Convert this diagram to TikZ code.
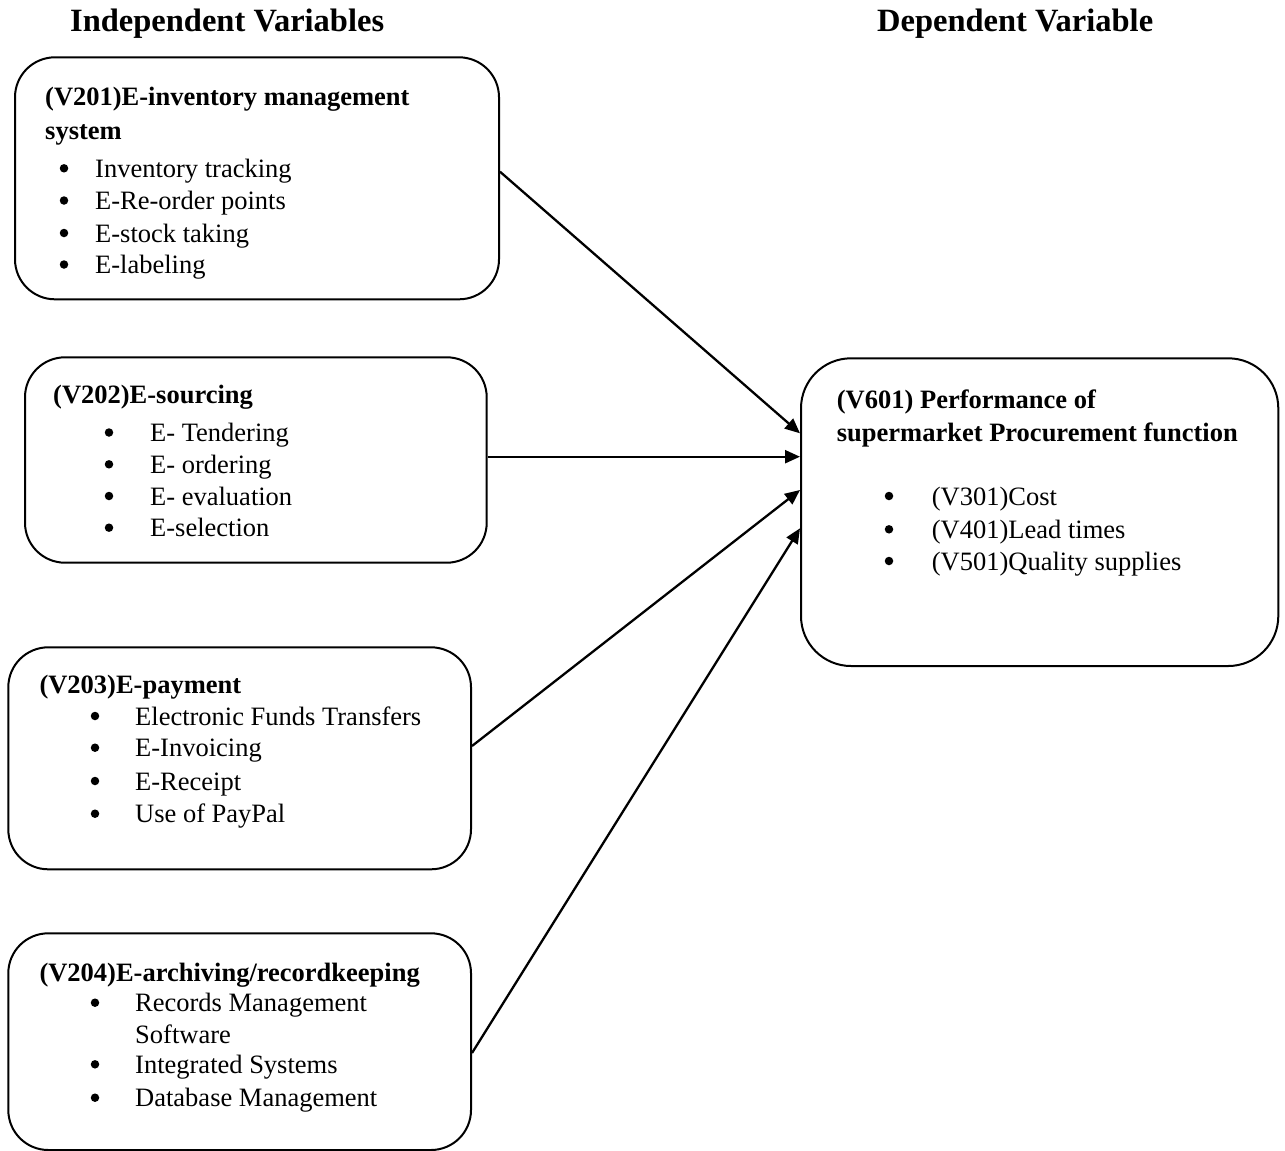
\documentclass[tikz,border=0pt]{standalone}
\usepackage{fontspec}
\setmainfont{Liberation Serif}
\usetikzlibrary{arrows.meta}
\tikzset{
  box/.style={draw, line width=2pt, rounded corners=40pt, inner sep=0pt},
  txt/.style={anchor=base west, inner sep=0pt, font=\fontsize{26.5}{32}\selectfont},
  ttl/.style={txt, font=\fontsize{26.5}{32}\selectfont\bfseries},
  hdr/.style={anchor=base west, inner sep=0pt, font=\fontsize{32.5}{38}\selectfont\bfseries},
  bul/.style={circle, fill, inner sep=0pt, minimum size=8.5pt},
  link/.style={line width=2.3pt, -{Triangle[length=15pt,width=13pt]}}
}
\begin{document}
\begin{tikzpicture}[x=1pt,y=-1pt]
\useasboundingbox (0,0) rectangle (1285,1151);
% headers
\node[hdr] (h1) at (70,31.5) {Independent Variables};
\node[hdr] (h2) at (877,31.5) {Dependent Variable};
% boxes
\node[box, minimum width=484pt, minimum height=242pt] (b1) at (257,178.3) {};
\node[box, minimum width=461.7pt, minimum height=205.4pt] (b2) at (255.85,460) {};
\node[box, minimum width=462.7pt, minimum height=222pt] (b3) at (239.65,758.3) {};
\node[box, minimum width=462.7pt, minimum height=216.7pt] (b4) at (239.65,1041.65) {};
\node[box, rounded corners=50pt, minimum width=477.3pt, minimum height=307.7pt] (v6) at (1039.65,512.15) {};
% box 1
\node[ttl] (t1a) at (45,105.5) {(V201)E-inventory management};
\node[ttl] (t1b) at (45,139.5) {system};
\node[bul] (p1a) at (64,168.3) {};
\node[txt] (l1a) at (95,177.3) {Inventory tracking};
\node[bul] (p1b) at (64,200.5) {};
\node[txt] (l1b) at (95,209.5) {E-Re-order points};
\node[bul] (p1c) at (64,233) {};
\node[txt] (l1c) at (95,242) {E-stock taking};
\node[bul] (p1d) at (64,264.5) {};
\node[txt] (l1d) at (95,273.5) {E-labeling};
% box 2
\node[ttl] (t2) at (53,403) {(V202)E-sourcing};
\node[bul] (p2a) at (109,432.5) {};
\node[txt] (l2a) at (150,441.5) {E- Tendering};
\node[bul] (p2b) at (109,464.3) {};
\node[txt] (l2b) at (150,473.3) {E- ordering};
\node[bul] (p2c) at (109,496) {};
\node[txt] (l2c) at (150,505) {E- evaluation};
\node[bul] (p2d) at (109,527.7) {};
\node[txt] (l2d) at (150,536.7) {E-selection};
% box 3
\node[ttl] (t3) at (39.3,693) {(V203)E-payment};
\node[bul] (p3a) at (95,716) {};
\node[txt] (l3a) at (135,725) {Electronic Funds Transfers};
\node[bul] (p3b) at (95,747.7) {};
\node[txt] (l3b) at (135,756.7) {E-Invoicing};
\node[bul] (p3c) at (95,781) {};
\node[txt] (l3c) at (135,790) {E-Receipt};
\node[bul] (p3d) at (95,813.7) {};
\node[txt] (l3d) at (135,822.7) {Use of PayPal};
% box 4
\node[ttl] (t4) at (39.3,981.7) {(V204)E-archiving/recordkeeping};
\node[bul] (p4a) at (95,1002.7) {};
\node[txt] (l4a) at (135,1011.7) {Records Management};
\node[txt] (l4b) at (135,1043.3) {Software};
\node[bul] (p4c) at (95,1064.3) {};
\node[txt] (l4c) at (135,1073.3) {Integrated Systems};
\node[bul] (p4d) at (95,1097.7) {};
\node[txt] (l4d) at (135,1106.7) {Database Management};
% dependent box
\node[ttl] (t6a) at (836.7,408.3) {(V601) Performance of};
\node[ttl] (t6b) at (836.7,441.7) {supermarket Procurement function};
\node[bul] (p6a) at (889,496) {};
\node[txt] (l6a) at (931.7,505) {(V301)Cost};
\node[bul] (p6b) at (889,529.3) {};
\node[txt] (l6b) at (931.7,538.3) {(V401)Lead times};
\node[bul] (p6c) at (889,561) {};
\node[txt] (l6c) at (931.7,570) {(V501)Quality supplies};
% connectors
\draw[link] (b1.east |- 0,171.7) -- (v6.west |- 0,433.3);
\draw[link] (b2.east |- 0,456.7) -- (v6.west |- 0,456.7);
\draw[link] (b3.east |- 0,746) -- (v6.west |- 0,490);
\draw[link] (b4.east |- 0,1053) -- (v6.west |- 0,528.3);
\end{tikzpicture}
\end{document}
